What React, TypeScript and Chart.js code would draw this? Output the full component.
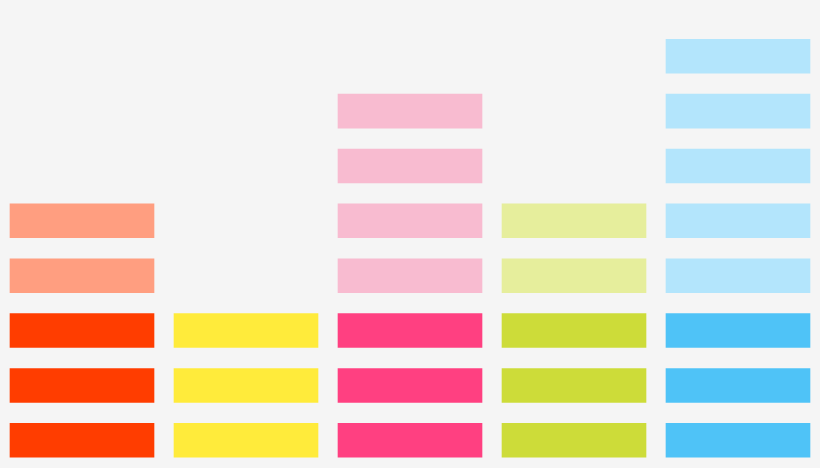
import React, { useEffect, useRef } from "react";
import { Chart, registerables } from "chart.js";

Chart.register(...registerables);

const categories = ["A", "B", "C", "D", "E"];
// number of strong (bottom) blocks and light (upper) blocks per column
const strongBlocks = [3, 3, 3, 3, 3];
const lightBlocks = [2, 0, 4, 2, 5];
const strongColors = ["#FF3D00", "#FFEB3B", "#FF4081", "#CDDC39", "#4FC3F7"];
const lightColors = ["#FF9E80", "#FFEB3B", "#F8BBD0", "#E6EE9C", "#B3E5FC"];
const blockFill = 0.63;
const levels = [0, 1, 2, 3, 4, 5, 6, 7];

export default function App() {
  const ref = useRef<HTMLCanvasElement | null>(null);
  useEffect(() => {
    document.body.style.margin = "0";
    document.body.style.background = "#F5F5F5";
    const datasets = levels.map((lvl) => ({
      label: "L" + lvl,
      data: categories.map((_, ci) =>
        lvl < strongBlocks[ci] + lightBlocks[ci] ? [lvl, lvl + blockFill] : null
      ),
      backgroundColor: categories.map((_, ci) =>
        lvl < strongBlocks[ci] ? strongColors[ci] : lightColors[ci]
      ),
      borderWidth: 0,
      categoryPercentage: 1,
      barPercentage: 0.882,
      grouped: false,
    }));
    const chart = new Chart(ref.current!, {
      type: "bar",
      data: { labels: categories, datasets: datasets as any },
      options: {
        animation: false,
        responsive: false,
        maintainAspectRatio: false,
        layout: { padding: 0 },
        plugins: { legend: { display: false }, tooltip: { enabled: false } },
        scales: {
          x: { display: false, offset: true },
          y: { display: false, min: -0.19, max: 8.34 },
        },
      },
    });
    return () => chart.destroy();
  }, []);
  return (
    <div style={{ width: 820, height: 468, background: "#F5F5F5" }}>
      <canvas ref={ref} width={820} height={468} style={{ display: "block" }} />
    </div>
  );
}
